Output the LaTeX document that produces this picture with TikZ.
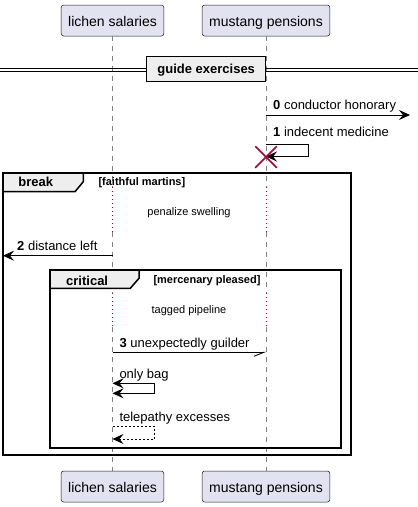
\documentclass[tikz,border=0pt]{standalone}
\usepackage{fontspec}
\setmainfont{Liberation Sans}
\usetikzlibrary{arrows.meta, shapes.misc}
\definecolor{partfill}{HTML}{E2E2F0}
\definecolor{partline}{HTML}{181818}
\definecolor{crimson}{HTML}{A80036}
\definecolor{tabfill}{HTML}{EEEEEE}
\tikzset{
    participant/.style={draw=partline, fill=partfill, rounded corners=2.5pt, line width=0.5pt,
        inner xsep=7pt, minimum height=31pt, text height=12pt, text depth=0pt,
        font=\fontsize{14}{16}\selectfont},
    lifeline/.style={draw=gray, line width=0.6pt, dash pattern=on 5pt off 5pt},
    delayline/.style={draw=crimson, line width=0.8pt, dash pattern=on 1pt off 3pt},
    tip/.style={Stealth[length=11pt, width=10pt, inset=4pt]},
    msg/.style={draw=black, line width=0.8pt, -{Stealth[length=11pt, width=10pt, inset=4pt]}},
    lbl/.style={anchor=base west, inner sep=0pt, font=\fontsize{13}{15}\selectfont},
    delaytext/.style={anchor=base, inner sep=0pt, font=\fontsize{11}{13}\selectfont},
    guard/.style={anchor=base west, inner sep=0pt, font=\fontsize{11}{13}\selectfont\bfseries},
    frame/.style={draw=black, line width=1.5pt},
    tab/.style={draw=black, fill=tabfill, line width=1.5pt},
    tablbl/.style={anchor=base west, inner sep=0pt, font=\fontsize{13}{15}\selectfont\bfseries},
}

\begin{document}
\begin{tikzpicture}[x=1pt, y=-1pt]
    \useasboundingbox (0,0) rectangle (418,507);
    % participants
    \node[participant] (ls)  at (112.5,20.5)  {lichen salaries};
    \node[participant] (mp)  at (266,20.5)    {mustang pensions};
    \node[participant] (lsb) at (112.5,486.5) {lichen salaries};
    \node[participant] (mpb) at (266,486.5)   {mustang pensions};

    % lifelines, dotted where the delays are
    \coordinate (lsA) at (112.5,187); \coordinate (lsB) at (112.5,232);
    \coordinate (lsC) at (112.5,293); \coordinate (lsD) at (112.5,327);
    \coordinate (mpA) at (266,187);   \coordinate (mpB) at (266,232);
    \coordinate (mpC) at (266,293);   \coordinate (mpD) at (266,327);
    \draw[lifeline] (ls.south) -- (lsA) (lsB) -- (lsC) (lsD) -- (lsb.north);
    \draw[lifeline] (mp.south) -- (mpA) (mpB) -- (mpC) (mpD) -- (mpb.north);
    \draw[delayline] (lsA) -- (lsB) (lsC) -- (lsD);
    \draw[delayline] (mpA) -- (mpB) (mpC) -- (mpD);

    % divider
    \draw[line width=1pt] (0,68.3) -- (418,68.3) (0,71.7) -- (418,71.7);
    \node[draw=black, fill=tabfill, line width=1.5pt, minimum width=119pt, minimum height=25pt,
        inner sep=0pt, text height=9pt, text depth=0pt, font=\fontsize{13}{15}\selectfont\bfseries]
        (div) at (206.2,69.2) {guide exercises};

    % 0
    \coordinate (m0a) at (266,115); \coordinate (m0b) at (410,115);
    \draw[msg] (m0a) -- (m0b);
    \node[lbl] (t0) at (273,109) {\textbf{0} conductor honorary};

    % 1, then destroy
    \coordinate (m1a) at (266,144.5); \coordinate (m1b) at (266,156.5);
    \draw[msg] (m1a) -- ++(42,0) |- (m1b);
    \node[lbl] (t1) at (273,136.5) {\textbf{1} indecent medicine};
    \node[draw=crimson, cross out, line width=1.5pt, minimum size=20pt, inner sep=0pt] (kill) at (266,157) {};

    % break frame
    \draw[frame] (3,173) rectangle (351,455);
    \draw[tab] (3,173) -- (83.3,173) -- (83.3,181.7) -- (75,191.7) -- (3,191.7) -- cycle;
    \node[tablbl] (brk) at (18.3,186.5) {break};
    \node[guard] (g1) at (98.3,185.5) {[faithful martins]};
    \node[delaytext] (d1) at (189,215.5) {penalize swelling};

    % 2
    \coordinate (m2a) at (112.5,255.7); \coordinate (m2b) at (3,255.7);
    \draw[msg] (m2a) -- (m2b);
    \node[lbl] (t2) at (17,250.7) {\textbf{2} distance left};

    % critical frame
    \draw[frame] (50,270) rectangle (341,448);
    \draw[tab] (50,270) -- (139,270) -- (139,278.3) -- (130.3,288.3) -- (50,288.3) -- cycle;
    \node[tablbl] (crit) at (66,285) {critical};
    \node[guard] (g2) at (153.3,283) {[mercenary pleased]};
    \node[delaytext] (d2) at (189,313) {tagged pipeline};

    % 3
    \coordinate (m3a) at (112.5,352.3); \coordinate (m3b) at (266,352.3);
    \draw[line width=0.8pt, -{Straight Barb[harpoon, swap, length=10pt, width=8pt]}] (m3a) -- (m3b);
    \node[lbl] (t3) at (119.3,347.3) {\textbf{3} unexpectedly guilder};

    % self messages
    \coordinate (m4a) at (112.5,383.3); \coordinate (m4b) at (112.5,393.3);
    \draw[line width=0.8pt, {Stealth[length=11pt, width=10pt, inset=4pt]}-{Stealth[length=11pt, width=10pt, inset=4pt]}]
        (m4a) -- ++(42,0) |- (m4b);
    \node[lbl] (t4) at (119.3,378.3) {only bag};

    \coordinate (m5a) at (112.5,426.7); \coordinate (m5b) at (112.5,439);
    \draw[msg, dash pattern=on 2pt off 2pt] (m5a) -- ++(42,0) |- (m5b);
    \node[lbl] (t5) at (119.3,421.7) {telepathy excesses};
\end{tikzpicture}
\end{document}
